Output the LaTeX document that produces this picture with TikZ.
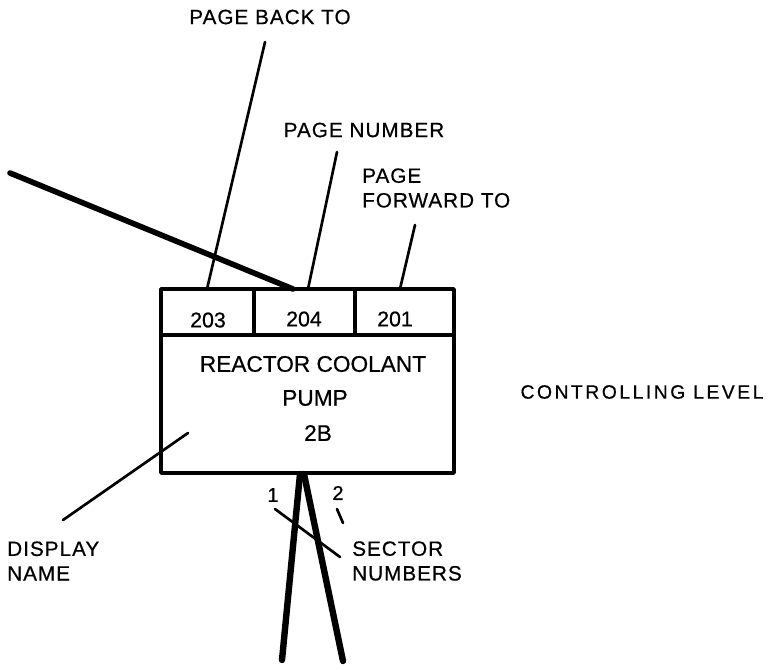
\documentclass[tikz,border=0pt]{standalone}
\usepackage{fontspec}
\setmainfont[FakeBold=0.6]{Liberation Sans}
\newfontfamily\lblfam[LetterSpace=5,FakeBold=0.6]{Liberation Sans}
\newfontfamily\widefam[LetterSpace=13,FakeBold=0.6]{Liberation Sans}
\begin{document}
\begin{tikzpicture}[x=0.75pt,y=-0.75pt,
  lbl/.style={inner sep=0pt,font=\lblfam\fontsize{15.5}{18.5}\selectfont},
  boxtxt/.style={inner sep=0pt,font=\fontsize{17}{20}\selectfont},
  numtxt/.style={inner sep=0pt,font=\fontsize{16}{20}\selectfont},
  sectxt/.style={inner sep=0pt,font=\fontsize{15}{16}\selectfont},
  leader/.style={line width=2pt,line cap=round},
  heavy/.style={line width=4.2pt,line cap=round},
  legstyle/.style={line width=4.8pt,line cap=round},
  frame/.style={line width=2.6pt,line join=round}]
\useasboundingbox (0,0) rectangle (779,669);

% box
\coordinate (bnw) at (161,289);
\coordinate (bse) at (454,473);
\draw[frame] (bnw) rectangle (bse);
\draw[frame] (161,335) -- (454,335);
\draw[frame] (254,289) -- (254,335);
\draw[frame] (355,289) -- (355,335);

% texts in box
\node[numtxt] (n203) at (208,320) {203};
\node[numtxt] (n204) at (304,319) {204};
\node[numtxt] (n201) at (395,319) {201};
\node[boxtxt] (rc) at (313,364) {REACTOR COOLANT};
\node[boxtxt] (pump) at (315,398) {PUMP};
\node[boxtxt] (twob) at (318,433) {2B};

% labels
\node[lbl] (back) at (270,17) {PAGE BACK TO};
\node[lbl] (pnum) at (364,130) {PAGE NUMBER};
\node[lbl,anchor=west,align=left] (fwd) at (362,188) {PAGE\\FORWARD TO};
\node[inner sep=0pt,font=\widefam\fontsize{14.5}{18}\selectfont] (ctrl) at (642,392) {CONTROLLING LEVEL};
\node[lbl,anchor=west,align=left] (dname) at (7,561) {DISPLAY\\NAME};
\node[lbl,anchor=west,align=left] (sect) at (352,561) {SECTOR\\NUMBERS};
\node[sectxt] (s1) at (273,495) {1};
\node[sectxt] (s2) at (338,493) {2};

% leader end points
\coordinate (backA) at (265,42);
\coordinate (backB) at (207,289);
\coordinate (pnumA) at (337,152);
\coordinate (pnumB) at (308,289);
\coordinate (fwdA) at (415,225);
\coordinate (fwdB) at (400,289);
\coordinate (inA) at (10,173);
\coordinate (inB) at (293,289);
\coordinate (dnA) at (63,520);
\coordinate (dnB) at (188,433);
\coordinate (apexL) at (300,474);
\coordinate (apexR) at (304,474);
\coordinate (legL) at (282,660);
\coordinate (legR) at (343,661);
\coordinate (secA) at (275,509);
\coordinate (secB) at (340,557);
\coordinate (tickA) at (337,509);
\coordinate (tickB) at (343,523);

\draw[leader] (backA) -- (backB);
\draw[leader] (pnumA) -- (pnumB);
\draw[leader] (fwdA) -- (fwdB);
\draw[heavy] (inA) -- (inB);
\draw[leader] (dnA) -- (dnB);
\draw[legstyle] (apexL) -- (legL);
\draw[legstyle] (apexR) -- (legR);
\draw[leader] (secA) -- (secB);
\draw[leader] (tickA) -- (tickB);
\end{tikzpicture}
\end{document}
